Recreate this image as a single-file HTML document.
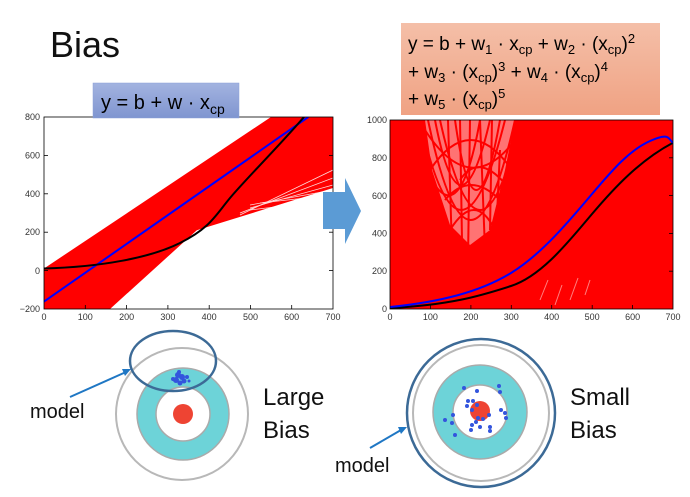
<!DOCTYPE html>
<html><head><meta charset="utf-8"><style>
body{margin:0;background:#fff;width:690px;height:492px;overflow:hidden;font-family:"Liberation Sans",sans-serif}
</style></head><body>
<svg width="690" height="492" viewBox="0 0 690 492" xmlns="http://www.w3.org/2000/svg" font-family="Liberation Sans, sans-serif">
<defs>
<linearGradient id="gb" x1="0" y1="0" x2="0" y2="1"><stop offset="0" stop-color="#a3b3e0"/><stop offset="1" stop-color="#7f95d0"/></linearGradient>
<linearGradient id="go" x1="0" y1="0" x2="0" y2="1"><stop offset="0" stop-color="#f4bfa8"/><stop offset="1" stop-color="#f0a283"/></linearGradient>
<clipPath id="cl"><rect x="44" y="117" width="289" height="192"/></clipPath>
<clipPath id="cr"><rect x="390" y="120" width="283" height="189"/></clipPath>
</defs>
<text x="50" y="57" font-size="36" fill="#111">Bias</text>

<!-- left plot -->
<g clip-path="url(#cl)">
<polygon points="44,268.5 271,117 333,117 333,188 196.8,230.3 110,309 44,309" fill="#f00"/>
<g stroke="#fff" stroke-width="0.8" opacity="0.85">
<line x1="240" y1="215" x2="333" y2="170"/><line x1="240" y1="213" x2="333" y2="178"/>
<line x1="250" y1="208" x2="333" y2="185"/><line x1="250" y1="205" x2="333" y2="190"/>
<line x1="260" y1="203" x2="333" y2="195"/><line x1="250" y1="210" x2="333" y2="200"/>
</g>
<line x1="44" y1="301.6" x2="308.3" y2="117" stroke="#00f" stroke-width="2"/>
<path d="M44,268.5 C100,267 150,258 180,243 S 215,216 230,198 S 280,145 304,117" fill="none" stroke="#000" stroke-width="2"/>
</g>
<rect x="44" y="117" width="289" height="192" fill="none" stroke="#000" stroke-width="0.8"/>
<g stroke="#000" stroke-width="0.8">
<line x1="85.3" y1="309" x2="85.3" y2="305"/><line x1="126.6" y1="309" x2="126.6" y2="305"/><line x1="167.9" y1="309" x2="167.9" y2="305"/><line x1="209.2" y1="309" x2="209.2" y2="305"/><line x1="250.5" y1="309" x2="250.5" y2="305"/><line x1="291.7" y1="309" x2="291.7" y2="305"/>
<line x1="44" y1="155.4" x2="48" y2="155.4"/><line x1="44" y1="193.8" x2="48" y2="193.8"/><line x1="44" y1="232.2" x2="48" y2="232.2"/><line x1="44" y1="270.6" x2="48" y2="270.6"/>
<line x1="333" y1="155.4" x2="329" y2="155.4"/><line x1="333" y1="193.8" x2="329" y2="193.8"/><line x1="333" y1="232.2" x2="329" y2="232.2"/><line x1="333" y1="270.6" x2="329" y2="270.6"/>
</g>
<g font-size="9" fill="#333" text-anchor="middle">
<text x="44" y="320">0</text><text x="85.3" y="320">100</text><text x="126.6" y="320">200</text><text x="167.9" y="320">300</text><text x="209.2" y="320">400</text><text x="250.5" y="320">500</text><text x="291.7" y="320">600</text><text x="333" y="320">700</text>
</g>
<g font-size="9" fill="#333" text-anchor="end">
<text x="40" y="120">800</text><text x="40" y="158.5">600</text><text x="40" y="197">400</text><text x="40" y="235">200</text><text x="40" y="274">0</text><text x="40" y="312">−200</text>
</g>
<rect x="93" y="83" width="146" height="35" fill="url(#gb)" stroke="#8aa0d8" stroke-width="0.5"/>
<text x="101" y="109" font-size="20" fill="#000">y = b + w · x<tspan font-size="14" dy="5">cp</tspan></text>

<!-- big arrow -->
<polygon points="323,192 345,192 345,178 361,211 345,244 345,229 323,229" fill="#5b9bd5"/>

<!-- right plot -->
<g clip-path="url(#cr)">
<rect x="390" y="120" width="283" height="189" fill="#f00"/>
<path d="M425,120 L515,120 L505,170 L490,230 L470,245 L450,225 L432,170 Z" fill="#fff" opacity="0.45"/>
<g fill="none" stroke="#f00" stroke-width="2">
<path d="M420,120 Q460,300 505,120"/><path d="M428,120 Q470,320 515,120"/><path d="M435,120 Q460,250 490,120"/>
<path d="M440,120 Q480,300 520,120"/><path d="M425,130 Q470,200 515,140"/><path d="M430,170 Q470,110 512,170"/>
<path d="M445,200 Q470,170 500,200"/><path d="M450,230 Q475,190 495,230"/><path d="M415,140 Q455,260 480,120"/>
<path d="M455,120 Q475,260 500,120"/><path d="M460,180 Q480,150 510,190"/><path d="M432,190 L440,260"/><path d="M500,150 L495,260"/>
<path d="M448,120 L452,250"/><path d="M470,120 L468,260"/><path d="M480,120 L485,250"/><path d="M460,120 L462,240"/><path d="M492,120 L490,230"/>
</g>
<g stroke="#fff" stroke-width="1" opacity="0.5">
<line x1="540" y1="300" x2="548" y2="280"/><line x1="555" y1="305" x2="562" y2="285"/><line x1="570" y1="300" x2="578" y2="278"/><line x1="585" y1="295" x2="590" y2="280"/>
</g>
<path d="M390,308 C450,305 480,296 511,286 S 570,240 592,214 S 640,160 673,142.7" fill="none" stroke="#000" stroke-width="2"/>
<path d="M390,307 C440,302 480,292 511,273 S 570,220 592,194 S 630,150 650,141 S 668,139 673,142.7" fill="none" stroke="#00f" stroke-width="2"/>
</g>
<rect x="390" y="120" width="283" height="189" fill="none" stroke="#000" stroke-width="0.8"/>
<g stroke="#000" stroke-width="0.8">
<line x1="430.4" y1="309" x2="430.4" y2="305"/><line x1="470.9" y1="309" x2="470.9" y2="305"/><line x1="511.3" y1="309" x2="511.3" y2="305"/><line x1="551.7" y1="309" x2="551.7" y2="305"/><line x1="592.2" y1="309" x2="592.2" y2="305"/><line x1="632.6" y1="309" x2="632.6" y2="305"/>
<line x1="673" y1="157.8" x2="669" y2="157.8"/><line x1="673" y1="195.6" x2="669" y2="195.6"/><line x1="673" y1="233.4" x2="669" y2="233.4"/><line x1="673" y1="271.2" x2="669" y2="271.2"/>
</g>
<g font-size="9" fill="#333" text-anchor="middle">
<text x="390" y="320">0</text><text x="430.4" y="320">100</text><text x="470.9" y="320">200</text><text x="511.3" y="320">300</text><text x="551.7" y="320">400</text><text x="592.2" y="320">500</text><text x="632.6" y="320">600</text><text x="673" y="320">700</text>
</g>
<g font-size="9" fill="#333" text-anchor="end">
<text x="387" y="123">1000</text><text x="387" y="161">800</text><text x="387" y="199">600</text><text x="387" y="236.5">400</text><text x="387" y="274">200</text><text x="387" y="312">0</text>
</g>
<rect x="401" y="23" width="259" height="92" fill="url(#go)"/>
<g font-size="19" fill="#000">
<text x="408" y="50">y = b + w<tspan font-size="13" dy="4">1</tspan><tspan dy="-4"> · x</tspan><tspan font-size="13" dy="4">cp</tspan><tspan dy="-4"> + w</tspan><tspan font-size="13" dy="4">2</tspan><tspan dy="-4"> · (x</tspan><tspan font-size="13" dy="4">cp</tspan><tspan dy="-4">)</tspan><tspan font-size="13" dy="-7">2</tspan></text>
<text x="408" y="78">+ w<tspan font-size="13" dy="4">3</tspan><tspan dy="-4"> · (x</tspan><tspan font-size="13" dy="4">cp</tspan><tspan dy="-4">)</tspan><tspan font-size="13" dy="-7">3</tspan><tspan dy="7"> + w</tspan><tspan font-size="13" dy="4">4</tspan><tspan dy="-4"> · (x</tspan><tspan font-size="13" dy="4">cp</tspan><tspan dy="-4">)</tspan><tspan font-size="13" dy="-7">4</tspan></text>
<text x="408" y="105">+ w<tspan font-size="13" dy="4">5</tspan><tspan dy="-4"> · (x</tspan><tspan font-size="13" dy="4">cp</tspan><tspan dy="-4">)</tspan><tspan font-size="13" dy="-7">5</tspan></text>
</g>

<!-- left target -->
<circle cx="182" cy="414" r="66" fill="#fff" stroke="#b8b8b8" stroke-width="2"/>
<circle cx="183" cy="414" r="46" fill="#6dd3d8" stroke="#aaa" stroke-width="1.5"/>
<circle cx="183" cy="414" r="27" fill="#fff" stroke="#aaa" stroke-width="1.5"/>
<circle cx="183" cy="414" r="10" fill="#ee4433"/>
<g fill="#3355dd">
<circle cx="178" cy="375" r="3"/><circle cx="182" cy="377" r="3"/><circle cx="176" cy="380" r="3"/><circle cx="184" cy="381" r="2.5"/><circle cx="180" cy="383" r="2.5"/><circle cx="173" cy="379" r="2"/><circle cx="187" cy="377" r="2"/><circle cx="179" cy="372" r="2"/><circle cx="189" cy="381" r="1.5"/>
</g>
<ellipse cx="173" cy="361" rx="43" ry="30" fill="none" stroke="#3c6a96" stroke-width="2.5"/>
<line x1="70" y1="397" x2="126" y2="372" stroke="#1f77c4" stroke-width="2"/>
<polygon points="131,369 122,369 125,376" fill="#1f77c4"/>
<text x="30" y="418" font-size="20" fill="#111">model</text>
<text x="263" y="405" font-size="24" fill="#111">Large</text>
<text x="263" y="438" font-size="24" fill="#111">Bias</text>

<!-- right target -->
<circle cx="481" cy="413" r="74" fill="#fff" stroke="#3c6a96" stroke-width="2.5"/>
<circle cx="481" cy="413" r="68" fill="none" stroke="#b8b8b8" stroke-width="2"/>
<circle cx="480" cy="412" r="47" fill="#6dd3d8" stroke="#aaa" stroke-width="1.5"/>
<circle cx="480" cy="412" r="27" fill="#fff" stroke="#aaa" stroke-width="1.5"/>
<circle cx="480" cy="411" r="10" fill="#ee4433"/>
<g fill="#3355dd">
<circle cx="464" cy="388" r="2"/><circle cx="477" cy="391" r="2"/><circle cx="499" cy="386" r="2"/><circle cx="500" cy="392" r="2"/><circle cx="468" cy="401" r="2"/><circle cx="473" cy="401" r="2"/><circle cx="467" cy="406" r="2"/><circle cx="477" cy="405" r="2"/><circle cx="472" cy="410" r="2"/><circle cx="501" cy="410" r="2"/><circle cx="505" cy="413" r="2"/><circle cx="453" cy="415" r="2"/><circle cx="478" cy="418" r="2"/><circle cx="483" cy="419" r="2"/><circle cx="476" cy="422" r="2"/><circle cx="445" cy="420" r="2"/><circle cx="452" cy="423" r="2"/><circle cx="506" cy="418" r="2"/><circle cx="472" cy="425" r="2"/><circle cx="480" cy="427" r="2"/><circle cx="490" cy="427" r="2"/><circle cx="471" cy="430" r="2"/><circle cx="490" cy="431" r="2"/><circle cx="455" cy="435" r="2"/><circle cx="489" cy="415" r="2"/>
</g>
<line x1="370" y1="448" x2="401" y2="430" stroke="#1f77c4" stroke-width="2"/>
<polygon points="407,427 398,427 401,434" fill="#1f77c4"/>
<text x="335" y="472" font-size="20" fill="#111">model</text>
<text x="570" y="405" font-size="24" fill="#111">Small</text>
<text x="570" y="438" font-size="24" fill="#111">Bias</text>
</svg>
</body></html>
